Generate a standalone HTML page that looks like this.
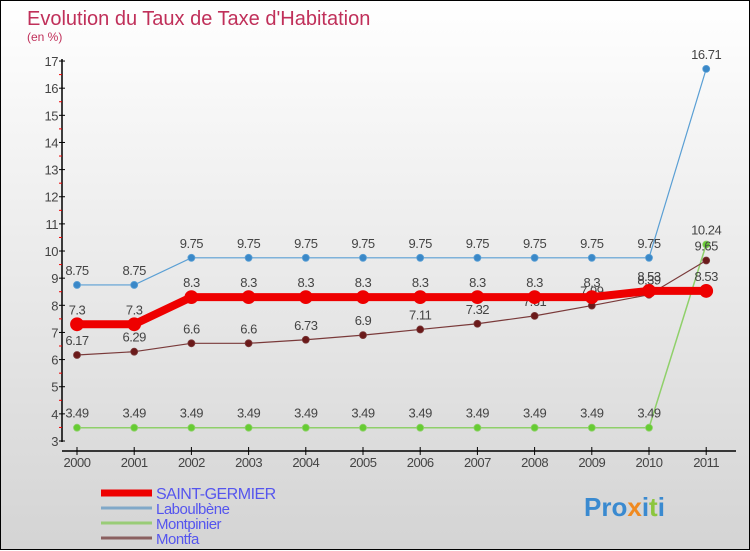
<!DOCTYPE html>
<html><head><meta charset="utf-8"><style>
body{margin:0}
#c{width:748px;height:548px;border:1px solid #000;background:linear-gradient(#fff,#d4d4d4);position:relative;font-family:"Liberation Sans",sans-serif}
svg{position:absolute;left:0;top:0}
</style></head><body>
<div id="c">
<svg id="s" width="750" height="550"></svg>
</div>
<script>
const years=["2000","2001","2002","2003","2004","2005","2006","2007","2008","2009","2010","2011"];
const stGermier=[7.3,7.3,8.3,8.3,8.3,8.3,8.3,8.3,8.3,8.3,8.53,8.53];
const laboulbene=[8.75,8.75,9.75,9.75,9.75,9.75,9.75,9.75,9.75,9.75,9.75,16.71];
const montpinier=[3.49,3.49,3.49,3.49,3.49,3.49,3.49,3.49,3.49,3.49,3.49,10.24];
const montfa=[6.17,6.29,6.6,6.6,6.73,6.9,7.11,7.32,7.61,7.99,8.39,9.65];
const yTicks=[3,4,5,6,7,8,9,10,11,12,13,14,15,16,17];
const NS="http://www.w3.org/2000/svg";
const s=document.getElementById('s');
const X=i=>76+i*57.2;
const Y=v=>440-(v-3)*27.14;
function el(t,a,txt){const e=document.createElementNS(NS,t);for(const k in a)e.setAttribute(k,a[k]);if(txt!=null)e.textContent=txt;s.appendChild(e);return e;}
let e;
e=el('text',{x:26,y:24,'font-size':20,fill:'#c0305a','font-weight':'300'},"Evolution du Taux de Taxe d'Habitation");


e=el('text',{x:26,y:40,'font-size':12,fill:'#c0305a'},"(en %)");


e=el('line',{x1:61,y1:58,x2:61,y2:441,stroke:'#000','stroke-width':1.5});


e=el('line',{x1:61,y1:450,x2:735,y2:450,stroke:'#000','stroke-width':1.5});


yTicks.forEach(v=>{
 e=el('line',{x1:58,y1:Y(v),x2:64,y2:Y(v),stroke:'#000'});
 
 
 if(v<17){e=el('line',{x1:58,y1:Y(v+0.5),x2:61,y2:Y(v+0.5),stroke:'#e00'});
 
 }
 e=el('text',{x:57,y:Y(v)+5,'font-size':13,fill:'#444','text-anchor':'end','letter-spacing':'-0.5'},String(v));
 
 
});
years.forEach((y,i)=>{
 e=el('line',{x1:X(i),y1:446,x2:X(i),y2:454,stroke:'#000'});
 
 
 e=el('text',{x:X(i),y:466,'font-size':13,fill:'#444','text-anchor':'middle','letter-spacing':'-0.5'},y);
 
 
});
function series(name,data,color,w,r,dot){
 e=el('polyline',{points:data.map((v,i)=>X(i)+','+Y(v)).join(' '),fill:'none',stroke:color,'stroke-width':w});
 
 
 data.forEach((v,i)=>{
  e=el('circle',{cx:X(i),cy:Y(v),r:r,fill:dot,stroke:color,'stroke-width':0.8});
  
  
  e=el('text',{x:X(i),y:Y(v)-10,'font-size':13,fill:'#444','text-anchor':'middle','letter-spacing':'-0.5'},String(v));
  
  
 });
}
series('montpinier',montpinier,'#8fd06a',1.5,3.5,'#66cc33');
series('laboulbene',laboulbene,'#5a9fd4',1.2,3.5,'#3a88c8');
series('montfa',montfa,'#7a3a3a',1.2,3.5,'#6b1a1a');
series('saint-germier',stGermier,'#ee0000',8,6.5,'#ee0000');
const legend=[["SAINT-GERMIER","#ee0000",7],["Laboulbène","#80a8c8",3],["Montpinier","#99cc77",3],["Montfa","#8a6060",3]];
legend.forEach((l,i)=>{
 const y=492+i*15;
 e=el('line',{x1:100,y1:y,x2:151,y2:y,stroke:l[1],'stroke-width':l[2]});
 
 
 e=el('text',{x:155,y:y+6,'font-size':i==0?16:15,fill:'#5555ee','letter-spacing':'-0.5'},l[0]);
 
 
});
e=el('text',{x:583,y:515,'font-size':26,'font-weight':'bold',fill:'#3a8ad0'},"");


[["Pro","#3a8ad0"],["x","#f08a20"],["i","#3a8ad0"],["t","#8cc63e"],["i","#3a8ad0"]].forEach(p=>{const t=document.createElementNS(NS,'tspan');t.setAttribute('fill',p[1]);t.textContent=p[0];e.appendChild(t);});
</script>
</body></html>
